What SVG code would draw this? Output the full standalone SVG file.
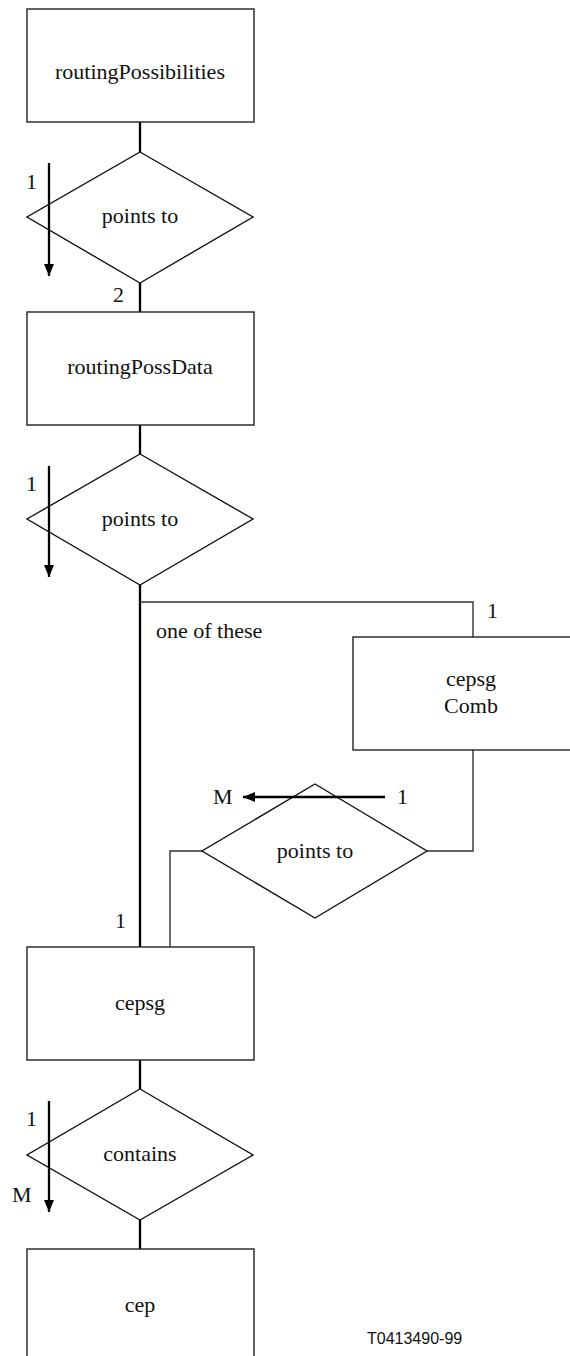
<svg xmlns="http://www.w3.org/2000/svg" width="570" height="1356" viewBox="0 0 570 1356">
<style>
.box{fill:#fff;stroke:#222;stroke-width:1.4}
.dia{fill:#fff;stroke:#111;stroke-width:1.4}
.thick{fill:none;stroke:#000;stroke-width:2.3}
.thin{fill:none;stroke:#333;stroke-width:1.4}
.arr{fill:none;stroke:#000;stroke-width:2.3}
.lbl{font-family:"Liberation Serif","Times New Roman",serif;font-size:22px;fill:#111}
.mid{font-family:"Liberation Serif","Times New Roman",serif;font-size:22px;fill:#111;text-anchor:middle}
.code{font-family:"Liberation Sans",Arial,sans-serif;font-size:16px;fill:#111}
</style>
<defs>
<marker id="ah" viewBox="0 0 12 10" refX="12" refY="5" markerWidth="12" markerHeight="10" markerUnits="userSpaceOnUse" orient="auto">
<path d="M0,0 L12,5 L0,10 Z" fill="#000"/>
</marker>
</defs>
<rect width="570" height="1356" fill="#fff"/>
<g id="connectors">
<line class="thick" x1="140" y1="122" x2="140" y2="152"/>
<line class="thick" x1="140" y1="283" x2="140" y2="312"/>
<line class="thick" x1="140" y1="425" x2="140" y2="454"/>
<line class="thick" x1="140" y1="585" x2="140" y2="947"/>
<polyline class="thin" points="140,602 473,602 473,637"/>
<polyline class="thin" points="473,750 473,851 427,851"/>
<polyline class="thin" points="202,851 170,851 170,947"/>
<line class="thick" x1="140" y1="1060" x2="140" y2="1089"/>
<line class="thick" x1="140" y1="1220" x2="140" y2="1249"/>
</g>
<g id="routingPossibilities">
<rect class="box" x="27" y="9" width="227" height="113"/>
<text class="mid" x="140" y="79" font-family="Liberation Serif, Times New Roman, serif">routingPossibilities</text>
</g>
<g id="pointsTo1">
<polygon class="dia" points="140,152 253,217 140,283 27,217"/>
<text class="mid" x="140" y="223" font-family="Liberation Serif, Times New Roman, serif">points to</text>
</g>
<g id="routingPossData">
<rect class="box" x="27" y="312" width="227" height="113"/>
<text class="mid" x="140" y="374" font-family="Liberation Serif, Times New Roman, serif">routingPossData</text>
</g>
<g id="pointsTo2">
<polygon class="dia" points="140,454 253,519 140,585 27,519"/>
<text class="mid" x="140" y="526" font-family="Liberation Serif, Times New Roman, serif">points to</text>
</g>
<g id="cepsgComb">
<rect class="box" x="353" y="637" width="230" height="113"/>
<text class="mid" x="471" y="686" font-family="Liberation Serif, Times New Roman, serif">cepsg</text>
<text class="mid" x="471" y="713" font-family="Liberation Serif, Times New Roman, serif">Comb</text>
</g>
<g id="pointsTo3">
<polygon class="dia" points="315,784 427,851 315,918 202,851"/>
<text class="mid" x="315" y="858" font-family="Liberation Serif, Times New Roman, serif">points to</text>
</g>
<g id="cepsg">
<rect class="box" x="27" y="947" width="227" height="113"/>
<text class="mid" x="140" y="1010" font-family="Liberation Serif, Times New Roman, serif">cepsg</text>
</g>
<g id="contains">
<polygon class="dia" points="140,1089 253,1155 140,1220 27,1155"/>
<text class="mid" x="140" y="1161" font-family="Liberation Serif, Times New Roman, serif">contains</text>
</g>
<g id="cep">
<rect class="box" x="27" y="1249" width="227" height="120"/>
<text class="mid" x="140" y="1312" font-family="Liberation Serif, Times New Roman, serif">cep</text>
</g>
<g id="cardinality-arrows">
<line class="arr" x1="49" y1="163" x2="49" y2="276" marker-end="url(#ah)"/>
<line class="arr" x1="49" y1="466" x2="49" y2="577" marker-end="url(#ah)"/>
<line class="arr" x1="385" y1="797" x2="243" y2="797" marker-end="url(#ah)"/>
<line class="arr" x1="49" y1="1101" x2="49" y2="1212" marker-end="url(#ah)"/>
<text class="lbl" x="26" y="189">1</text>
<text class="lbl" x="113" y="302">2</text>
<text class="lbl" x="26" y="491">1</text>
<text class="lbl" x="487" y="618">1</text>
<text class="lbl" x="156" y="638">one of these</text>
<text class="lbl" x="213" y="804">M</text>
<text class="lbl" x="397" y="804">1</text>
<text class="lbl" x="115" y="928">1</text>
<text class="lbl" x="26" y="1126">1</text>
<text class="lbl" x="12" y="1202">M</text>
</g>
<text class="code" x="367" y="1344">T0413490-99</text>
</svg>
